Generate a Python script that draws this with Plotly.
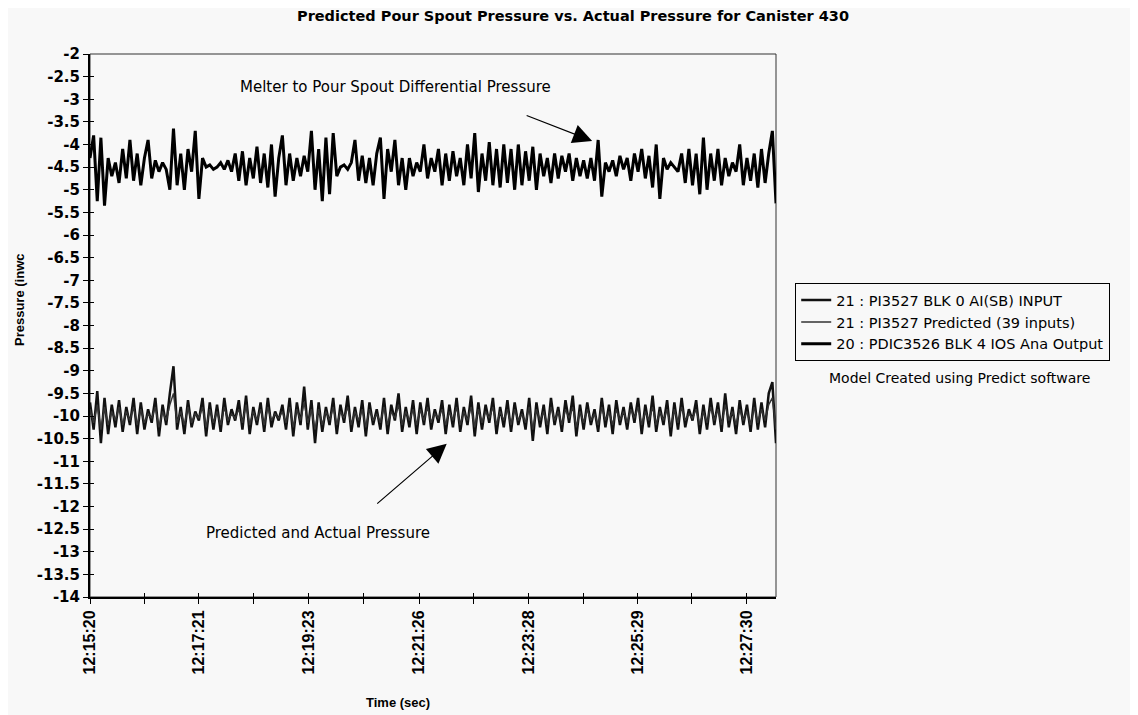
import pandas as pd
import plotly.graph_objects as go


# time labels shown along the x axis
tick_labels = ["12:15:20", "12:17:21", "12:19:23", "12:21:26", "12:23:28", "12:25:29", "12:27:30"]
start_time = "12:15:20"
end_time = "12:28:03"

y_tick_labels = ["-2", "-2.5", "-3", "-3.5", "-4", "-4.5", "-5", "-5.5", "-6", "-6.5", "-7", "-7.5",
                 "-8", "-8.5", "-9", "-9.5", "-10", "-10.5", "-11", "-11.5", "-12", "-12.5",
                 "-13", "-13.5", "-14"]

# 20 : PDIC3526 BLK 4 IOS Ana Output  (melter to pour spout differential pressure)
pdic3526 = [
    -4.3, -3.8, -5.25, -3.85, -5.35, -4.3, -4.7, -4.4, -4.85, -4.1,
    -4.75, -3.9, -4.8, -4.2, -4.9, -4.3, -3.9, -4.75, -4.35, -4.6,
    -4.4, -4.55, -5.0, -3.65, -4.9, -4.2, -5.0, -4.1, -4.6, -3.7,
    -5.2, -4.3, -4.5, -4.45, -4.55, -4.5, -4.4, -4.55, -4.35, -4.6,
    -4.2, -4.8, -4.15, -4.9, -4.3, -4.75, -4.05, -4.85, -4.2, -4.95,
    -4.0, -5.15, -4.3, -3.8, -4.9, -4.2, -4.8, -4.3, -4.7, -4.25,
    -4.6, -3.7, -5.0, -4.1, -5.25, -3.85, -5.1, -3.75, -4.7, -4.5,
    -4.45, -4.55, -4.4, -3.9, -4.8, -4.25, -4.85, -4.3, -4.9, -4.2,
    -3.85, -5.2, -4.1, -4.6, -3.9, -4.9, -4.3, -5.0, -4.3, -4.7,
    -4.4, -4.6, -4.0, -4.75, -4.3, -4.6, -4.1, -4.9, -4.2, -4.8,
    -4.15, -4.7, -4.3, -4.9, -4.0, -4.75, -3.75, -5.05, -4.2, -4.8,
    -3.95, -4.9, -4.1, -4.95, -4.0, -4.85, -4.1, -5.0, -4.0, -4.9,
    -4.15, -4.8, -4.05, -5.0, -4.2, -4.7, -4.3, -4.85, -4.2, -4.75,
    -4.25, -4.6, -4.2, -4.8, -4.3, -4.7, -4.35, -4.75, -4.3, -4.8,
    -3.9, -5.15, -4.4, -4.6, -4.35, -4.7, -4.25, -4.55, -4.3, -4.8,
    -4.2, -4.6, -4.1, -4.75, -4.25, -4.95, -4.0, -5.2, -4.3, -4.55,
    -4.4, -4.5, -4.6, -4.2, -4.85, -4.1, -4.9, -4.2, -5.1, -3.85,
    -5.0, -4.2, -4.8, -4.1, -4.9, -4.3, -4.7, -4.4, -4.6, -4.0,
    -4.9, -4.3, -4.8, -4.2, -4.95, -4.1, -4.85, -4.2, -3.7, -5.3,
]

# 21 : PI3527 BLK 0 AI(SB) INPUT  (actual pour spout pressure)
pi3527_actual = [
    -9.7, -10.3, -9.45, -10.6, -9.6, -10.4, -9.75, -10.25, -9.65, -10.35,
    -9.8, -10.2, -9.6, -10.4, -9.7, -10.3, -9.85, -10.15, -9.6, -10.45,
    -9.75, -10.2, -9.5, -8.9, -10.3, -9.8, -10.4, -9.65, -10.25, -9.9,
    -10.1, -9.6, -10.45, -9.7, -10.3, -9.75, -10.35, -9.6, -10.2, -9.85,
    -10.1, -9.65, -10.3, -9.55, -10.4, -9.8, -10.2, -9.7, -10.35, -9.6,
    -10.25, -9.9, -10.1, -9.75, -10.3, -9.6, -10.45, -9.7, -10.2, -9.35,
    -10.3, -9.65, -10.6, -9.7, -10.35, -9.8, -10.2, -9.6, -10.4, -9.75,
    -10.15, -9.55, -10.35, -9.8, -10.25, -9.65, -10.45, -9.7, -10.2, -9.85,
    -10.3, -9.6, -10.4, -9.75, -10.1, -9.5, -10.35, -9.8, -10.25, -9.65,
    -10.4, -9.7, -10.2, -9.6, -10.3, -9.85, -10.15, -9.65, -10.4, -9.75,
    -10.25, -9.6, -10.35, -9.8, -10.2, -9.55, -10.45, -9.7, -10.3, -9.75,
    -10.15, -9.6, -10.4, -9.8, -10.25, -9.65, -10.35, -9.7, -10.2, -9.85,
    -10.3, -9.6, -10.55, -9.7, -10.25, -9.75, -10.4, -9.6, -10.2, -9.8,
    -10.35, -9.65, -10.15, -9.55, -10.45, -9.75, -10.3, -9.7, -10.2, -9.85,
    -10.35, -9.6, -10.25, -9.75, -10.4, -9.65, -10.2, -9.8, -10.3, -9.7,
    -10.15, -9.6, -10.4, -9.75, -10.25, -9.55, -10.35, -9.8, -10.2, -9.65,
    -10.45, -9.7, -10.3, -9.6, -10.25, -9.85, -10.1, -9.65, -10.4, -9.75,
    -10.3, -9.6, -10.2, -9.7, -10.35, -9.5, -10.25, -9.8, -10.4, -9.65,
    -10.2, -9.75, -10.35, -9.6, -10.3, -9.7, -10.25, -9.5, -9.25, -10.6,
]

# 21 : PI3527 Predicted (39 inputs)
pi3527_predicted = [
    -9.85, -10.15, -9.75, -10.3, -9.8, -10.2, -9.9, -10.1, -9.8, -10.2,
    -9.9, -10.1, -9.8, -10.2, -9.85, -10.15, -9.95, -10.05, -9.8, -10.25,
    -9.9, -10.1, -9.75, -9.5, -10.15, -9.9, -10.2, -9.8, -10.15, -9.95,
    -10.05, -9.8, -10.25, -9.85, -10.15, -9.9, -10.2, -9.8, -10.1, -9.95,
    -10.05, -9.85, -10.15, -9.75, -10.2, -9.9, -10.1, -9.85, -10.2, -9.8,
    -10.1, -9.95, -10.05, -9.9, -10.15, -9.8, -10.25, -9.85, -10.1, -9.7,
    -10.15, -9.85, -10.3, -9.85, -10.2, -9.9, -10.1, -9.8, -10.2, -9.9,
    -10.05, -9.8, -10.2, -9.9, -10.1, -9.85, -10.25, -9.85, -10.1, -9.95,
    -10.15, -9.8, -10.2, -9.9, -10.05, -9.75, -10.2, -9.9, -10.1, -9.85,
    -10.2, -9.85, -10.1, -9.8, -10.15, -9.95, -10.05, -9.85, -10.2, -9.9,
    -10.1, -9.8, -10.2, -9.9, -10.1, -9.8, -10.25, -9.85, -10.15, -9.9,
    -10.05, -9.8, -10.2, -9.9, -10.1, -9.85, -10.2, -9.85, -10.1, -9.95,
    -10.15, -9.8, -10.3, -9.85, -10.1, -9.9, -10.2, -9.8, -10.1, -9.9,
    -10.2, -9.85, -10.05, -9.8, -10.25, -9.9, -10.15, -9.85, -10.1, -9.95,
    -10.2, -9.8, -10.1, -9.9, -10.2, -9.85, -10.1, -9.9, -10.15, -9.85,
    -10.05, -9.8, -10.2, -9.9, -10.1, -9.8, -10.2, -9.9, -10.1, -9.85,
    -10.25, -9.85, -10.15, -9.8, -10.1, -9.95, -10.05, -9.85, -10.2, -9.9,
    -10.15, -9.8, -10.1, -9.85, -10.2, -9.75, -10.1, -9.9, -10.2, -9.85,
    -10.1, -9.9, -10.2, -9.8, -10.15, -9.85, -10.1, -9.75, -9.6, -10.3,
]

WIDE = "DejaVu Sans, Verdana, sans-serif"
NARROW = "Liberation Sans, Arial, sans-serif"
BG = "#f8f8f8"

day = "2000-01-01 "
times = pd.date_range(day + start_time, day + end_time, periods=len(pdic3526))
tick_times = pd.to_datetime([day + t for t in tick_labels])
# unlabeled ticks half way between labels
mid_times = tick_times[:-1] + (tick_times[1:] - tick_times[:-1]) / 2
x_tickvals = list(tick_times) + list(mid_times)
x_ticktext = tick_labels + [""] * len(mid_times)
y_tickvals = [float(t) for t in y_tick_labels]

fig = go.Figure()
fig.add_trace(go.Scatter(x=times, y=pi3527_actual, mode="lines",
                         name="21 : PI3527 BLK 0 AI(SB) INPUT",
                         line=dict(color="#111111", width=2.5)))
fig.add_trace(go.Scatter(x=times, y=pi3527_predicted, mode="lines",
                         name="21 : PI3527 Predicted (39 inputs)",
                         line=dict(color="#333333", width=1.5)))
fig.add_trace(go.Scatter(x=times, y=pdic3526, mode="lines",
                         name="20 : PDIC3526 BLK 4 IOS Ana Output",
                         line=dict(color="#000000", width=3)))
# invisible copy on overlay axes, only so the inner half of the crossing ticks is drawn
fig.add_trace(go.Scatter(x=times, y=pdic3526, mode="lines", xaxis="x2", yaxis="y2",
                         opacity=0, showlegend=False, hoverinfo="skip"))

fig.update_layout(
    width=1130, height=707,
    margin=dict(l=82, r=362, t=46, b=118),
    paper_bgcolor=BG, plot_bgcolor=BG,
    font=dict(family=WIDE, color="black", size=14),
    title=dict(text="<b>Predicted Pour Spout Pressure vs. Actual Pressure for Canister 430</b>",
               x=0.5, xref="container", xanchor="center",
               y=1 - 8 / 707, yanchor="middle",
               font=dict(size=14.5, family=WIDE)),
    showlegend=True,
    legend=dict(x=1.028, y=0.578, xanchor="left", yanchor="top",
                bgcolor=BG, bordercolor="black", borderwidth=1,
                font=dict(size=14.5, family=WIDE),
                tracegroupgap=0, itemwidth=30),
    xaxis=dict(
        type="date", range=[times[0], times[-1]],
        tickvals=x_tickvals, ticktext=x_ticktext, tickangle=-90,
        ticks="outside", ticklen=5, tickwidth=1, tickcolor="black",
        tickfont=dict(size=16, family=NARROW, weight="bold"),
        showgrid=False, zeroline=False,
        showline=True, linecolor="black", linewidth=2,
    ),
    yaxis=dict(
        range=[-14, -2],
        tickvals=y_tickvals, ticktext=y_tick_labels,
        ticks="outside", ticklen=5, tickwidth=1, tickcolor="black",
        tickfont=dict(size=15, family=WIDE, weight="bold"),
        showgrid=False, zeroline=False,
        showline=True, linecolor="black", linewidth=2,
    ),
    xaxis2=dict(overlaying="x", matches="x", type="date", tickvals=x_tickvals,
                ticks="inside", ticklen=4, tickcolor="black", showticklabels=False,
                showgrid=False, zeroline=False, side="bottom"),
    yaxis2=dict(overlaying="y", matches="y", tickvals=y_tickvals,
                ticks="inside", ticklen=4, tickcolor="black", showticklabels=False,
                showgrid=False, zeroline=False, side="left"),
)

# thin frame on top/right
fig.add_shape(type="rect", xref="paper", yref="paper", x0=0, x1=1, y0=0, y1=1,
              line=dict(color="#333333", width=1), layer="below")

# axis titles
fig.add_annotation(text="<b>Pressure (inwc</b>", xref="paper", yref="paper",
                   x=-0.102, y=0.547, xanchor="center", yanchor="middle",
                   textangle=-90, showarrow=False,
                   font=dict(size=13, family=NARROW))
fig.add_annotation(text="<b>Time (sec)</b>", xref="paper", yref="paper",
                   x=0.449, y=-0.195, xanchor="center", yanchor="middle", showarrow=False,
                   font=dict(size=13, family="Liberation Sans Narrow, Liberation Sans, Arial"))

# callouts
fig.add_annotation(text="Melter to Pour Spout Differential Pressure", xref="paper", yref="paper",
                   x=0.446, y=0.939, xanchor="center", yanchor="middle", showarrow=False,
                   font=dict(size=15, family=WIDE))
fig.add_annotation(text="", xref="paper", yref="paper", x=0.732, y=0.840,
                   ax=-67, ay=-26, showarrow=True, arrowhead=2, arrowsize=3.2,
                   arrowwidth=1.2, arrowcolor="black")
fig.add_annotation(text="Predicted and Actual Pressure", xref="paper", yref="paper",
                   x=0.332, y=0.118, xanchor="center", yanchor="middle", showarrow=False,
                   font=dict(size=15, family=WIDE))
fig.add_annotation(text="", xref="paper", yref="paper", x=0.520, y=0.282,
                   ax=-71, ay=61, showarrow=True, arrowhead=2, arrowsize=3.2,
                   arrowwidth=1.2, arrowcolor="black")
fig.add_annotation(text="Model Created using Predict software", xref="paper", yref="paper",
                   x=1.268, y=0.403, xanchor="center", yanchor="middle", showarrow=False,
                   font=dict(size=14, family=WIDE))

fig.write_html("out.html")
